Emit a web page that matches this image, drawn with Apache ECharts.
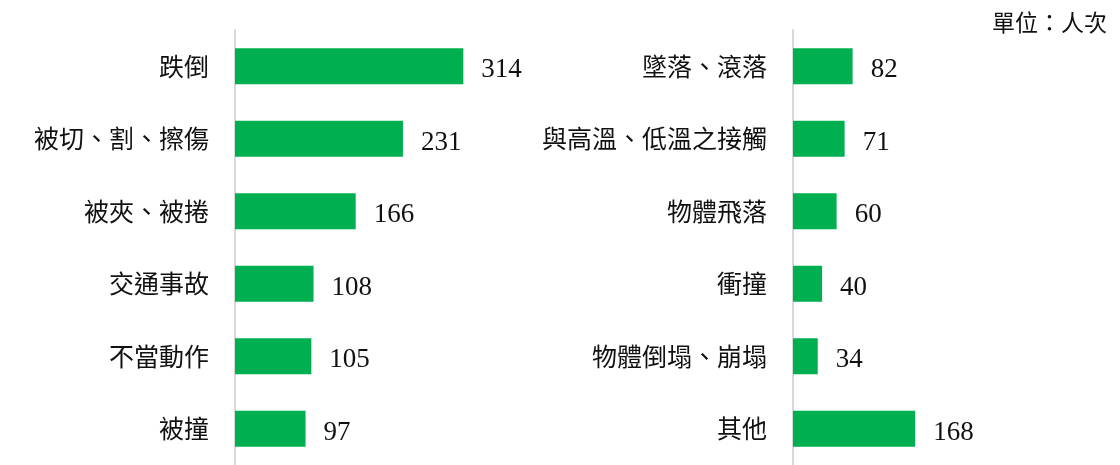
<!DOCTYPE html>
<html>
<head>
<meta charset="utf-8">
<script src="https://cdn.jsdelivr.net/npm/echarts@6/dist/echarts.min.js"></script>
<style>
  html, body { margin: 0; padding: 0; background: #fff; }
  #chart { width: 1120px; height: 465px; }
</style>
</head>
<body>
<div id="chart"></div>
<script>
// 左半邊
const leftCategories = ['跌倒', '被切、割、擦傷', '被夾、被捲', '交通事故', '不當動作', '被撞'];
const leftValues = [314, 231, 166, 108, 105, 97];
// 右半邊
const rightCategories = ['墜落、滾落', '與高溫、低溫之接觸', '物體飛落', '衝撞', '物體倒塌、崩塌', '其他'];
const rightValues = [82, 71, 60, 40, 34, 168];
const unitText = '單位：人次';

const cjkFont = '"Noto Sans CJK TC", "Noto Sans CJK SC", serif';
const numFont = '"Liberation Serif", "DejaVu Serif", serif';
const green = '#00b050';

function catAxis(idx, data) {
  return {
    type: 'category',
    gridIndex: idx,
    data: data,
    inverse: true,
    axisLine: { show: true, lineStyle: { color: '#d9d9d9', width: 2 } },
    axisTick: { show: false },
    axisLabel: {
      margin: 26,
      fontFamily: cjkFont,
      fontSize: 25,
      color: '#111',
      padding: [3, 0, 0, 0]
    }
  };
}

function valAxis(idx) {
  return {
    type: 'value',
    gridIndex: idx,
    min: 0,
    max: 350,
    show: false,
    splitLine: { show: false }
  };
}

function barSeries(idx, values) {
  return {
    type: 'bar',
    xAxisIndex: idx,
    yAxisIndex: idx,
    data: values,
    barWidth: 36,
    itemStyle: { color: green },
    label: {
      show: true,
      position: 'right',
      distance: 18,
      offset: [0, 4],
      fontFamily: numFont,
      fontSize: 27,
      color: '#111'
    },
    silent: true
  };
}

const chart = echarts.init(document.getElementById('chart'));
chart.setOption({
  animation: false,
  backgroundColor: '#fff',
  title: {
    text: unitText,
    right: 8,
    top: 6,
    textStyle: { fontFamily: cjkFont, fontSize: 23, fontWeight: 'normal', color: '#111' }
  },
  grid: [
    { left: 235, top: 30, width: 254.5, height: 441 },
    { left: 793, top: 30, width: 254.5, height: 441 }
  ],
  xAxis: [valAxis(0), valAxis(1)],
  yAxis: [catAxis(0, leftCategories), catAxis(1, rightCategories)],
  series: [barSeries(0, leftValues), barSeries(1, rightValues)]
});
</script>
</body>
</html>
